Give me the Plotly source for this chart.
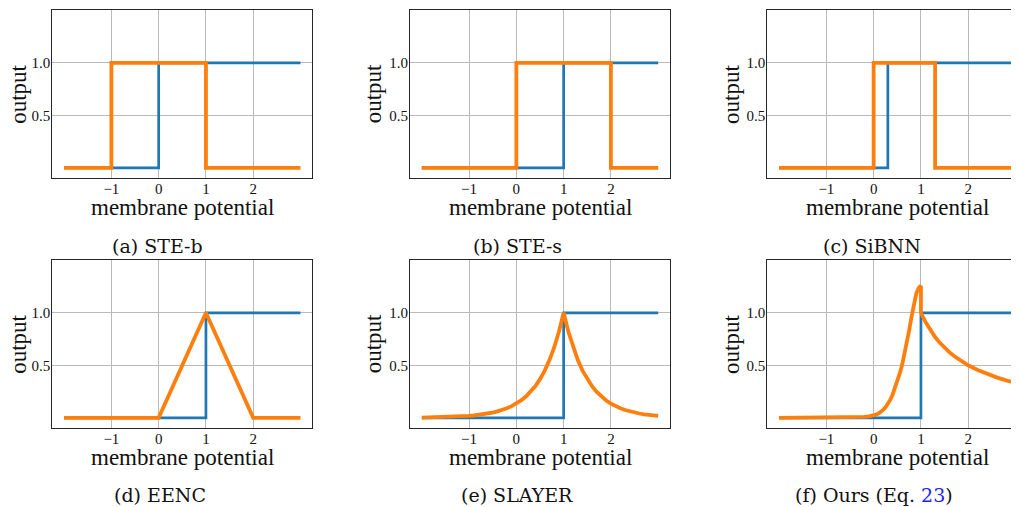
import plotly.graph_objects as go

# page body has an 8px margin, so the figure is drawn 8px in from the top-left
OFF = 8
W, H = 1019 - OFF, 507 - OFF

# ---------------- data ----------------
# Heaviside outputs (blue): threshold per panel
step_thresholds = [0.0, 1.0, 0.3, 1.0, 1.0, 1.0]
x_min, x_max = -2.0, 3.0

# STE-b surrogate
steb_x = [-2.0, -1.0, -1.0, 1.0, 1.0, 3.0]
steb_y = [0.0, 0.0, 1.0, 1.0, 0.0, 0.0]
# STE-s surrogate
stes_x = [-2.0, 0.0, 0.0, 2.0, 2.0, 3.0]
stes_y = [0.0, 0.0, 1.0, 1.0, 0.0, 0.0]
# SiBNN surrogate
sibnn_x = [-2.0, 0.0, 0.0, 1.3, 1.3, 3.0]
sibnn_y = [0.0, 0.0, 1.0, 1.0, 0.0, 0.0]
# EENC surrogate
eenc_x = [-2.0, 0.0, 1.0, 2.0, 3.0]
eenc_y = [0.0, 0.0, 1.0, 0.0, 0.0]
# SLAYER surrogate
slayer_x = [-2.0, -1.9, -1.8, -1.7, -1.6, -1.5, -1.4, -1.3, -1.2, -1.1,
            -1.0, -0.9, -0.8, -0.7, -0.6, -0.5, -0.4, -0.3, -0.2, -0.1,
            0.0, 0.1, 0.2, 0.3, 0.4, 0.5, 0.6, 0.7, 0.8, 0.9,
            1.0, 1.1, 1.2, 1.3, 1.4, 1.5, 1.6, 1.7, 1.8, 1.9,
            2.0, 2.1, 2.2, 2.3, 2.4, 2.5, 2.6, 2.7, 2.8, 2.9, 3.0]
slayer_y = [0.002, 0.003, 0.004, 0.005, 0.006, 0.007, 0.008, 0.010, 0.012, 0.015,
            0.018, 0.022, 0.027, 0.033, 0.041, 0.050, 0.061, 0.074, 0.091, 0.111,
            0.135, 0.165, 0.202, 0.247, 0.301, 0.368, 0.449, 0.549, 0.670, 0.819,
            1.0, 0.819, 0.670, 0.549, 0.449, 0.368, 0.301, 0.247, 0.202, 0.165,
            0.135, 0.111, 0.091, 0.074, 0.061, 0.050, 0.041, 0.033, 0.027, 0.022, 0.018]
# Ours surrogate
ours_x = [-2.0, -1.5, -1.0, -0.5, -0.3, -0.2, -0.1, 0.0, 0.05, 0.1, 0.15, 0.2, 0.25, 0.3,
          0.35, 0.4, 0.45, 0.5, 0.55, 0.6, 0.65, 0.7, 0.75, 0.8, 0.85, 0.9, 0.95, 0.98,
          1.0, 1.0, 1.1, 1.2, 1.3, 1.4, 1.5, 1.6, 1.7, 1.8, 1.9, 2.0, 2.2, 2.4, 2.6,
          2.8, 3.0]
ours_y = [0.0, 0.0, 0.0, 0.002, 0.005, 0.009, 0.014, 0.022, 0.03, 0.04, 0.055, 0.075, 0.10, 0.13,
          0.17, 0.22, 0.28, 0.35, 0.42, 0.50, 0.60, 0.71, 0.83, 0.96, 1.09, 1.18, 1.235, 1.25,
          1.245, 1.0, 0.909, 0.833, 0.769, 0.714, 0.667, 0.625, 0.588, 0.556, 0.526, 0.5, 0.455,
          0.417, 0.385, 0.357, 0.333]

captions = ["(a) STE-b", "(b) STE-s", "(c) SiBNN", "(d) EENC", "(e) SLAYER",
            "(f) Ours (Eq. <span style='color:#1f1fff'>23</span>)"]
x_tickvals = [-1, 0, 1, 2]
x_ticktext = ["\u22121", "0", "1", "2"]
y_tickvals = [0.5, 1.0]
y_ticktext = ["0.5", "1.0"]

# ---------------- layout geometry (page pixels) ----------------
col_left = [52.3, 410.0, 767.3]
col_right = [312.3, 670.0, 1019.0]
row_top = [10.3, 260.3]
row_bot = [178.3, 428.3]
unit_x = 260.0 / 5.5
ylab_x = [18.5, 373.0, 731.7]
cap_x = [[157, 517, 872], [160, 517, 874]]
cap_y = [246, 495]

BLUE = "#1f77b4"
ORANGE = "#ff7f0e"
SERIF = "Liberation Serif"
GRID = "#bababa"


def px(xp):
    return (xp - OFF) / W


def py(yp):
    return 1 - (yp - OFF) / H


fig = go.Figure()
layout = dict(width=W, height=H, margin=dict(l=0, r=0, t=0, b=0, pad=0),
              paper_bgcolor="white", plot_bgcolor="white", showlegend=False)
annotations = []


def step_xy(th):
    return [x_min, th, th, x_max], [0.0, 0.0, 1.0, 1.0]


orange_sets = [
    (steb_x, steb_y), (stes_x, stes_y), (sibnn_x, sibnn_y),
    (eenc_x, eenc_y), (slayer_x, slayer_y), (ours_x, ours_y),
]

for i in range(6):
    r, c = divmod(i, 3)
    k = i + 1
    xa = "xaxis" if k == 1 else f"xaxis{k}"
    ya = "yaxis" if k == 1 else f"yaxis{k}"
    xr = "x" if k == 1 else f"x{k}"
    yr = "y" if k == 1 else f"y{k}"
    x0p, x1p = col_left[c], col_right[c]
    xrange = [-2.25, -2.25 + (x1p - x0p) / unit_x]
    layout[xa] = dict(domain=[px(x0p), min(1.0, px(x1p))], range=xrange, anchor=yr,
                      tickvals=x_tickvals, ticktext=x_ticktext, ticks="", ticklen=0,
                      ticklabelstandoff=-3,
                      showgrid=True, gridcolor=GRID, gridwidth=1.2,
                      zeroline=False, showline=True, linecolor="#262626", linewidth=1.2,
                      mirror=True, tickfont=dict(family=SERIF, size=15, color="#111"))
    layout[ya] = dict(domain=[py(row_bot[r]), py(row_top[r])], range=[-0.1, 1.5],
                      anchor=xr, tickvals=y_tickvals, ticktext=y_ticktext, ticks="", ticklen=0,
                      ticklabelstandoff=-2,
                      showgrid=True, gridcolor=GRID, gridwidth=1.2,
                      zeroline=False, showline=True, linecolor="#262626", linewidth=1.2,
                      mirror=(c != 2), tickfont=dict(family=SERIF, size=15, color="#111"))
    bx, by = step_xy(step_thresholds[i])
    fig.add_trace(go.Scatter(x=bx, y=by, mode="lines", xaxis=xr, yaxis=yr,
                             line=dict(color=BLUE, width=2.7), hoverinfo="skip"))
    ox, oy = orange_sets[i]
    fig.add_trace(go.Scatter(x=ox, y=oy, mode="lines", xaxis=xr, yaxis=yr,
                             line=dict(color=ORANGE, width=3.8), hoverinfo="skip"))
    # axis titles
    annotations.append(dict(text="membrane potential", xref="paper", yref="paper",
                            x=px((x0p + x0p + 260.0) / 2), y=py(row_bot[r] + 29.5),
                            showarrow=False, xanchor="center", yanchor="middle", borderpad=0,
                            font=dict(family=SERIF, size=23, color="#111")))
    annotations.append(dict(text="output", xref="paper", yref="paper",
                            x=px(ylab_x[c]), y=py((row_top[r] + row_bot[r]) / 2),
                            showarrow=False, textangle=-90, xanchor="center", yanchor="middle",
                            borderpad=0, font=dict(family=SERIF, size=23, color="#111")))
    annotations.append(dict(text=captions[i], xref="paper", yref="paper",
                            x=px(cap_x[r][c]), y=py(cap_y[r]), showarrow=False,
                            xanchor="center", yanchor="middle", borderpad=0,
                            font=dict(family="DejaVu Serif", size=19, color="#111")))

layout["annotations"] = annotations
fig.update_layout(**layout)
fig.write_html("out.html")
